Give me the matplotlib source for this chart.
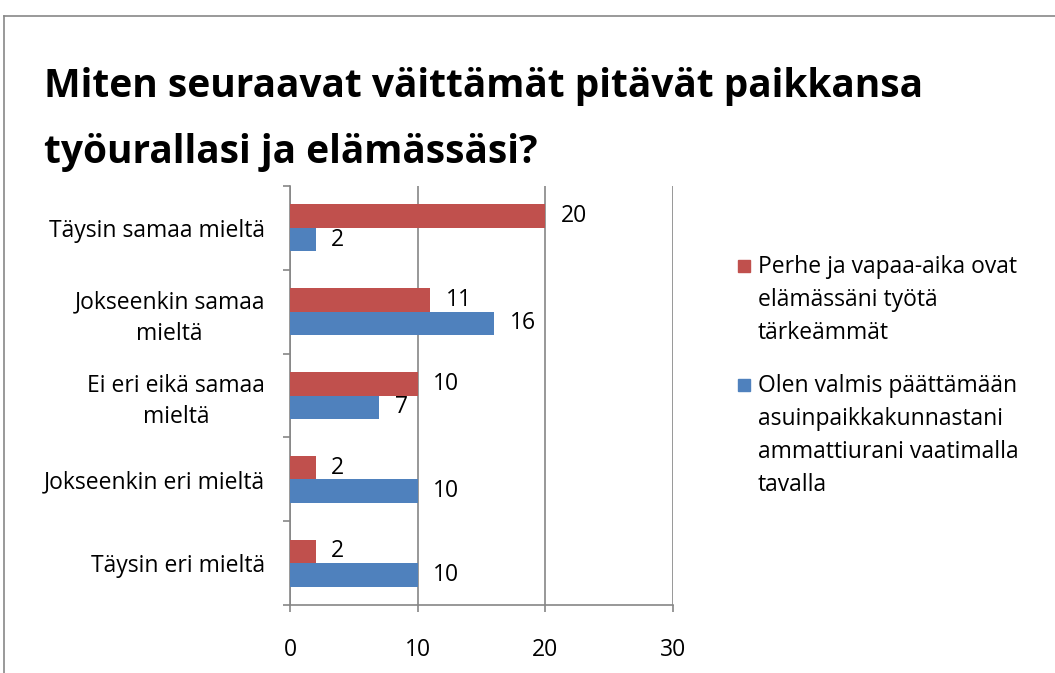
import matplotlib
matplotlib.use("Agg")
import matplotlib.pyplot as plt
from matplotlib.lines import Line2D
from matplotlib.patches import Rectangle
import numpy as np

# ─── Data ─────────────────────────────────────────────────────────────────────

CATEGORIES = [
    "Täysin samaa mieltä",
    "Jokseenkin samaa\nmieltä",
    "Ei eri eikä samaa\nmieltä",
    "Jokseenkin eri mieltä",
    "Täysin eri mieltä",
]
PERHE = [20, 11, 10, 2, 2]
VALMIS = [2, 16, 7, 10, 10]

SERIES_LABELS = [
    "Perhe ja vapaa-aika ovat\nelämässäni työtä\ntärkeämmät",
    "Olen valmis päättämään\nasuinpaikkakunnastani\nammattiurani vaatimalla\ntavalla",
]
X_TICKS = [0, 10, 20, 30]
TITLE = "Miten seuraavat väittämät pitävät paikkansa\ntyöurallasi ja elämässäsi?"

RED = "#C0504D"
BLUE = "#4F81BD"
GRID = "#868686"
FONT = "Open Sans"
FS = 16.5

plt.rcParams["font.family"] = [FONT, "DejaVu Sans"]

W, H = 1055, 673
fig = plt.figure(figsize=(W / 100, H / 100), dpi=100)

# outer chart frame (top and left edges visible)
fig.add_artist(Line2D([4 / W, 4 / W], [0, 1 - 16 / H], color="#888888", lw=1.2))
fig.add_artist(Line2D([4 / W, 1], [1 - 16 / H, 1 - 16 / H], color="#888888", lw=1.2))

fig.text(44 / W, 1 - 67 / H, TITLE, fontsize=28, fontweight="bold",
         va="top", ha="left", linespacing=1.9)

ax = fig.add_axes([290 / W, 1 - 605 / H, 383 / W, 419 / H])

n = len(CATEGORIES)
y = np.arange(n)[::-1].astype(float)
h = 0.28

bars_r = ax.barh(y + h / 2, PERHE, height=h, color=RED, zorder=3)
bars_b = ax.barh(y - h / 2, VALMIS, height=h, color=BLUE, zorder=3)

for bars in (bars_r, bars_b):
    for b in bars:
        ax.annotate(f"{b.get_width():g}",
                    (b.get_width(), b.get_y() + b.get_height() / 2),
                    xytext=(11, 0), textcoords="offset points",
                    ha="left", va="center", fontsize=FS)

ax.set_xlim(0, 30)
ax.set_ylim(-0.5, n - 0.5)
ax.set_xticks(X_TICKS)
ax.tick_params(axis="x", length=5, width=1.2, color=GRID, pad=19, labelsize=FS)
ax.set_yticks(y)
ax.set_yticklabels(CATEGORIES, multialignment="center", linespacing=1.38)
ax.set_yticks(np.arange(n + 1) - 0.5, minor=True)
ax.tick_params(axis="y", which="major", length=0, pad=18, labelsize=FS)
ax.tick_params(axis="y", which="minor", length=5, width=1.2, color=GRID)

ax.grid(axis="x", color=GRID, lw=1.2, zorder=0)
for s in ("top", "right"):
    ax.spines[s].set_visible(False)
for s in ("left", "bottom"):
    ax.spines[s].set_color(GRID)
    ax.spines[s].set_linewidth(1.2)

# legend drawn by hand so the marker sits beside the first line
leg_y = [266, 385]
for col, lab, yy in zip([RED, BLUE], SERIES_LABELS, leg_y):
    fig.add_artist(Rectangle((738 / W, 1 - (yy + 6) / H), 12 / W, 12 / H,
                             color=col, transform=fig.transFigure))
    fig.text(758 / W, 1 - (yy - 11) / H, lab, fontsize=FS, va="top",
             ha="left", linespacing=1.5)

fig.savefig("out.png", dpi=100)
